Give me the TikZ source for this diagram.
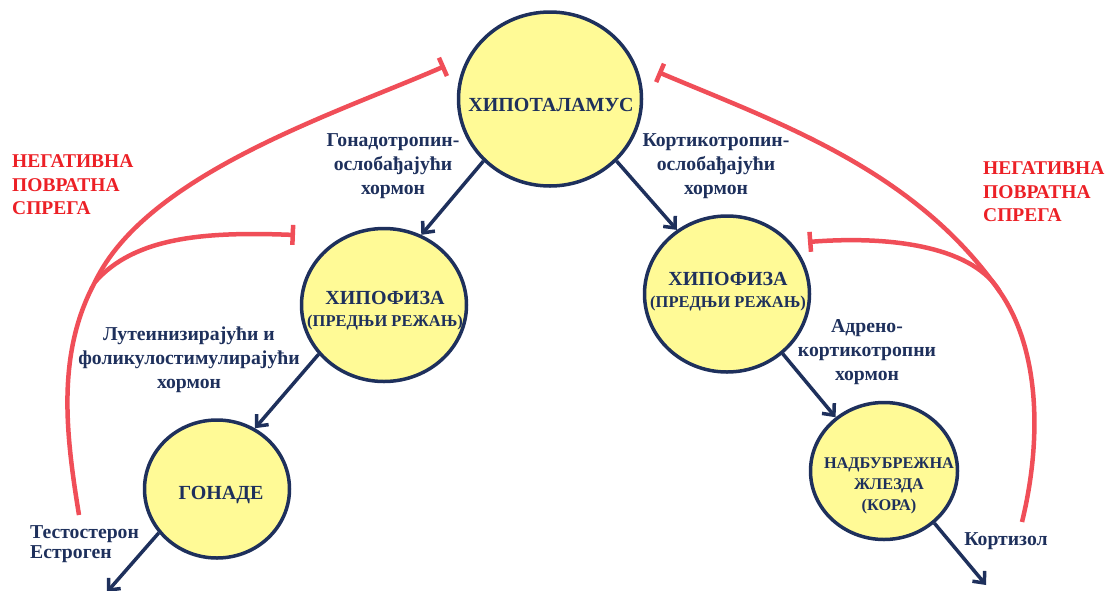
\documentclass[tikz,border=0pt]{standalone}
\usepackage{fontspec}
\setmainfont{Liberation Serif}
\usetikzlibrary{shapes.geometric,arrows.meta}

\definecolor{gnavy}{RGB}{30,48,92}
\definecolor{gyellow}{RGB}{255,250,150}
\definecolor{fbred}{RGB}{240,78,88}
\definecolor{txtred}{RGB}{236,32,38}

\begin{document}
\begin{tikzpicture}[x=1pt,y=-1pt,
  gland/.style={ellipse,draw=gnavy,fill=gyellow,line width=3.5pt,inner sep=0pt},
  glandtext/.style={text=gnavy,font=\bfseries\fontsize{20}{22}\selectfont,align=center,inner sep=0pt},
  hormone/.style={text=gnavy,font=\bfseries\fontsize{19.7}{24}\selectfont,align=center,inner sep=0pt},
  feedtext/.style={text=txtred,font=\bfseries\fontsize{19.5}{23.5}\selectfont,align=left,inner sep=0pt,anchor=west},
  flow/.style={draw=gnavy,line width=3.5pt,-{Straight Barb[length=9pt,width=16pt]}},
  feedback/.style={draw=fbred,line width=4.5pt,-{Bar[width=20pt]}}]

   \useasboundingbox (0,0) rectangle (1109,590);

   % glands
   \node[gland,minimum width=183pt,minimum height=174pt] (hypo) at (550,99) {};
   \node[gland,minimum width=165pt,minimum height=153pt] (hypfl) at (384,305) {};
   \node[gland,minimum width=165pt,minimum height=156pt] (hypfr) at (727,294) {};
   \node[gland,minimum width=145pt,minimum height=138pt] (gonad) at (217,489) {};
   \node[gland,minimum width=147pt,minimum height=137pt] (adren) at (884,471) {};

   \node[glandtext] (hypotxt) at (551,105) {ХИПОТАЛАМУС};
   \node[glandtext] (hypfltxt) at (385,311) {ХИПОФИЗА\\{\fontsize{16.5}{22}\selectfont (ПРЕДЊИ РЕЖАЊ)}};
   \node[glandtext] (hypfrtxt) at (728,292) {ХИПОФИЗА\\{\fontsize{16.5}{22}\selectfont (ПРЕДЊИ РЕЖАЊ)}};
   \node[glandtext] (gonadtxt) at (221,495) {ГОНАДЕ};
   \node[glandtext,font=\bfseries\fontsize{16.3}{21}\selectfont] (adrentxt) at (889,486) {НАДБУБРЕЖНА\\ЖЛЕЗДА\\(КОРА)};

   % hormones
   \coordinate (sexout) at (107,592);
   \coordinate (cortout) at (986,585);
   \draw[flow] (hypo.223) -- (hypfl.62);
   \draw[flow] (hypo.317) -- (hypfr.128);
   \draw[flow] (hypfl.217) -- (gonad.58);
   \draw[flow] (hypfr.313) -- (adren.132);
   \draw[flow] (gonad.217) -- (sexout);
   \draw[flow] (adren.314) -- (cortout);

   \node[hormone] (grh) at (393,166) {Гонадотропин-\\ослобађајући\\хормон};
   \node[hormone] (crh) at (716,166) {Кортикотропин-\\ослобађајући\\хормон};
   \node[hormone] (lhfsh) at (189,360) {Лутеинизирајући и\\фоликулостимулирајући\\хормон};
   \node[hormone] (acth) at (867,352) {Адрено-\\кортикотропни\\хормон};
   \node[hormone,align=left,anchor=west,font=\bfseries\fontsize{19.7}{20}\selectfont] (sexh) at (30,544) {Тестостерон\\Естроген};
   \node[hormone] (cort) at (1006,541) {Кортизол};

   % negative feedback
   \coordinate (fbl0) at (79,515);
   \coordinate (fblj) at (95,282);
   \coordinate (fblh) at (445,66);
   \coordinate (fblp) at (295,235);
   \draw[feedback] (fbl0) .. controls (66,435) and (56,354) .. (fblj)
                          .. controls (146.6,174) and (335,114) .. (fblh);
   \draw[feedback] (fblj) .. controls (134.6,237) and (205,231.4) .. (fblp);

   \coordinate (fbr0) at (1022,522);
   \coordinate (fbrj) at (1000,292);
   \coordinate (fbrh) at (658,72);
   \coordinate (fbrp) at (808,242);
   \draw[feedback] (fbr0) .. controls (1042,440) and (1040,350) .. (fbrj)
                          .. controls (914.5,169) and (777.6,122.7) .. (fbrh);
   \draw[feedback] (fbrj) .. controls (975,249) and (898,235) .. (fbrp);

   \node[feedtext] (nfbl) at (12,185) {НЕГАТИВНА\\ПОВРАТНА\\СПРЕГА};
   \node[feedtext] (nfbr) at (983,192) {НЕГАТИВНА\\ПОВРАТНА\\СПРЕГА};

\end{tikzpicture}
\end{document}
